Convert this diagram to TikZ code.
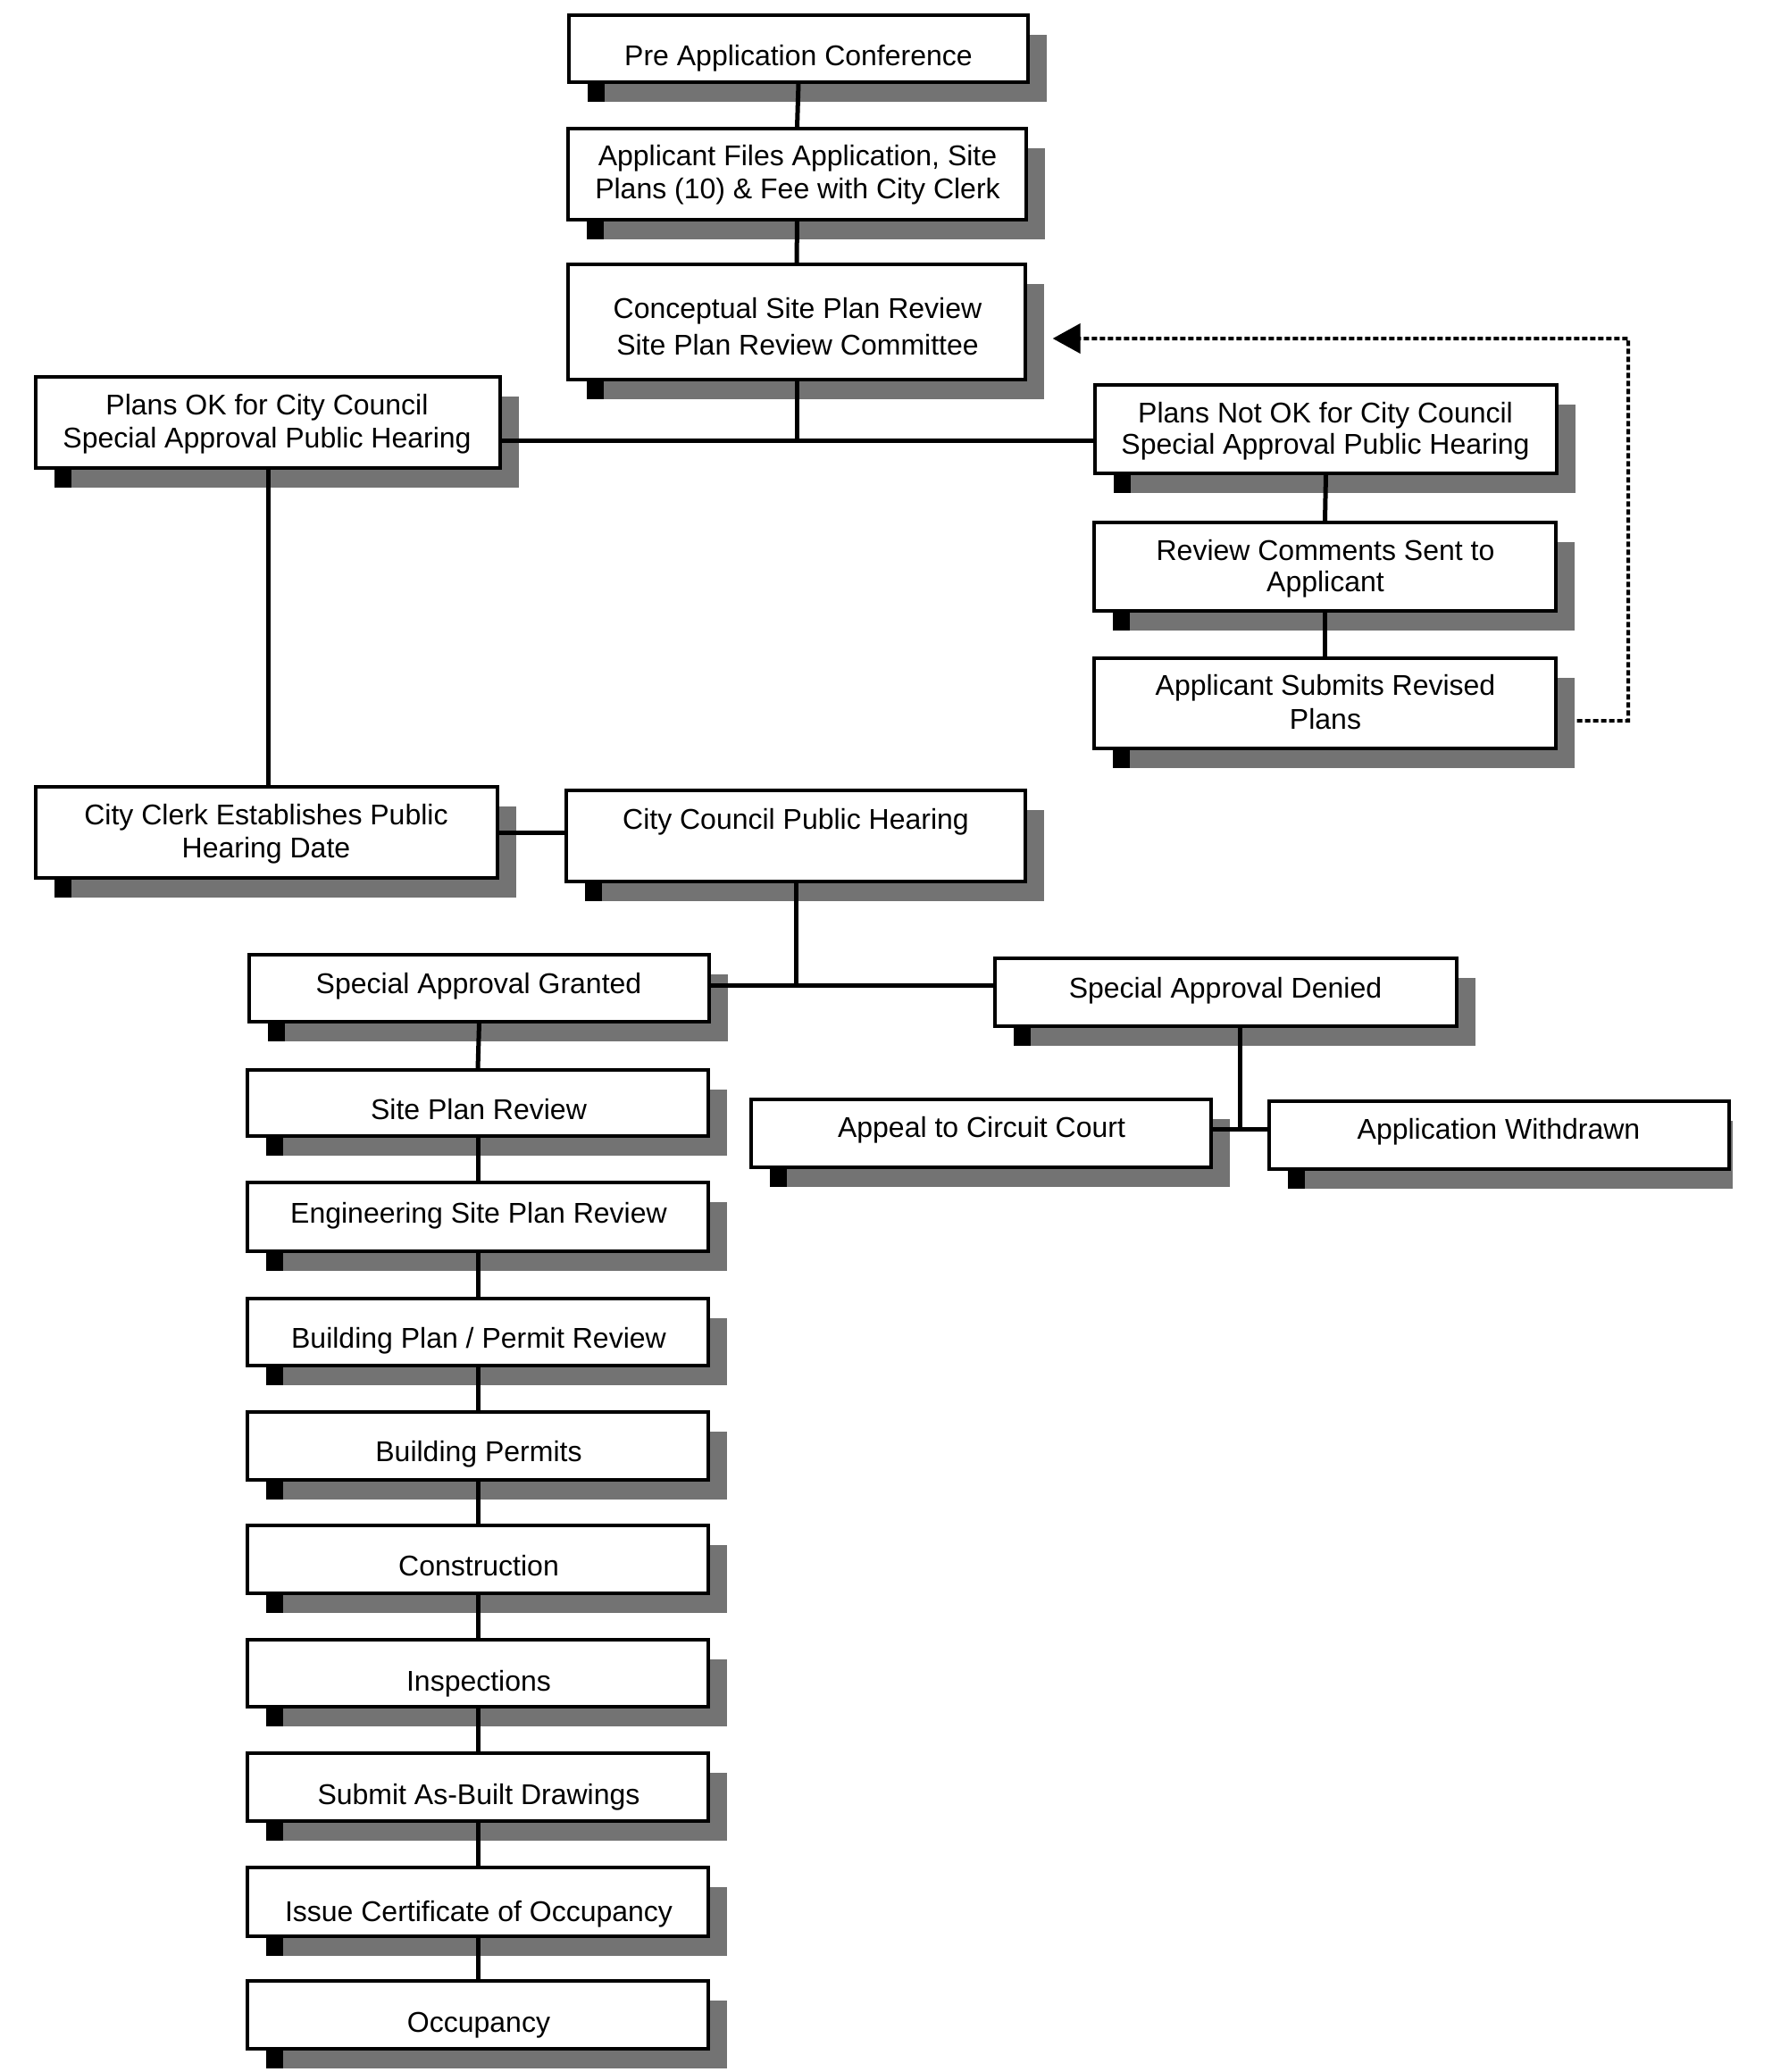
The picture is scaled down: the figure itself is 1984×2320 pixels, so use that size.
\documentclass[tikz,border=0pt]{standalone}
\usepackage{fontspec}
\setmainfont{Liberation Sans}
\usetikzlibrary{arrows.meta,calc}
\tikzset{
  box/.style={draw, line width=1pt, fill=white, inner sep=0pt},
  lbl/.style={font=\fontsize{9.6pt}{11.1pt}\selectfont, align=center, inner sep=0pt},
  conn/.style={line width=1.5pt},
  dotline/.style={line width=1.2pt, dash pattern=on 1.8pt off 0.9pt, -{Triangle[length=9.3pt,width=9.9pt]}},
  shadowc/.style={fill=black!55},
}
% name, left, top, right, bottom, shadow right extension
\newcommand\flowbox[6]{%
  \fill[shadowc] (#2+21,#3+22) rectangle (#4+#6,#5+22);
  \fill[black] (#2+21,#5) rectangle (#2+40,#5+22);
  \node[box, minimum width={(#4-#2)*0.3pt}, minimum height={(#5-#3)*0.3pt}] (#1) at ({(#2+#4)/2},{(#3+#5)/2}) {};
}
\begin{document}
\begin{tikzpicture}[x=0.3pt,y=-0.3pt]
\useasboundingbox (0,0) rectangle (1984,2320);
\fill[white] (0,0) rectangle (1984,2320);

% boxes
\flowbox{preapp}{637}{17}{1151}{92}{21}
\flowbox{files}{636}{144}{1149}{246}{21}
\flowbox{csp}{636}{296}{1148}{425}{21}
\flowbox{pok}{40}{422}{560}{524}{21}
\flowbox{pnok}{1226}{431}{1743}{530}{21}
\flowbox{review}{1225}{585}{1742}{684}{21}
\flowbox{sub}{1225}{737}{1742}{838}{21}
\flowbox{clerk}{40}{881}{557}{983}{21}
\flowbox{council}{634}{885}{1148}{987}{21}
\flowbox{granted}{279}{1069}{794}{1144}{21}
\flowbox{denied}{1114}{1073}{1631}{1149}{21}
\flowbox{appeal}{841}{1231}{1356}{1307}{21}
\flowbox{withdrawn}{1421}{1233}{1936}{1309}{4}
\flowbox{spr}{277}{1198}{793}{1272}{21}
\flowbox{eng}{277}{1324}{793}{1401}{21}
\flowbox{bpr}{277}{1454}{793}{1529}{21}
\flowbox{bp}{277}{1581}{793}{1657}{21}
\flowbox{cons}{277}{1708}{793}{1784}{21}
\flowbox{insp}{277}{1836}{793}{1911}{21}
\flowbox{asb}{277}{1963}{793}{2039}{21}
\flowbox{ico}{277}{2091}{793}{2168}{21}
\flowbox{occ}{277}{2218}{793}{2294}{21}

% texts
\node[lbl, anchor=base] (tpreapp) at (894,73) {Pre Application Conference};
\node[lbl] (tfiles) at (893,196) {Applicant Files Application, Site\\Plans (10) \& Fee with City Clerk};
\node[lbl, font=\fontsize{9.6pt}{12.3pt}\selectfont] (tcsp) at (893,366) {Conceptual Site Plan Review\\Site Plan Review Committee};
\node[lbl] (tpok) at (299,475) {Plans OK for City Council\\Special Approval Public Hearing};
\node[lbl, font=\fontsize{9.6pt}{10.6pt}\selectfont] (tpnok) at (1484,483) {Plans Not OK for City Council\\Special Approval Public Hearing};
\node[lbl, font=\fontsize{9.6pt}{10.6pt}\selectfont] (treview) at (1484,637) {Review Comments Sent to\\Applicant};
\node[lbl, font=\fontsize{9.6pt}{11.4pt}\selectfont] (tsub) at (1484,786) {Applicant Submits Revised\\Plans};
\node[lbl] (tclerk) at (298,934) {City Clerk Establishes Public\\Hearing Date};
\node[lbl, anchor=base] (tcouncil) at (891,928) {City Council Public Hearing};
\node[lbl, anchor=base] (tgranted) at (536,1112) {Special Approval Granted};
\node[lbl, anchor=base] (tdenied) at (1372,1117) {Special Approval Denied};
\node[lbl, anchor=base] (tappeal) at (1099,1273) {Appeal to Circuit Court};
\node[lbl, anchor=base] (twithdrawn) at (1678,1275) {Application Withdrawn};
\node[lbl, anchor=base] (tspr) at (536,1253) {Site Plan Review};
\node[lbl, anchor=base] (teng) at (536,1369) {Engineering Site Plan Review};
\node[lbl, anchor=base] (tbpr) at (536,1509) {Building Plan / Permit Review};
\node[lbl, anchor=base] (tbp) at (536,1636) {Building Permits};
\node[lbl, anchor=base] (tcons) at (536,1764) {Construction};
\node[lbl, anchor=base] (tinsp) at (536,1893) {Inspections};
\node[lbl, anchor=base] (tasb) at (536,2020) {Submit As-Built Drawings};
\node[lbl, anchor=base] (tico) at (536,2151) {Issue Certificate of Occupancy};
\node[lbl, anchor=base] (tocc) at (536,2275) {Occupancy};

% hubs
\coordinate (hubA) at (894,493);
\coordinate (hubB) at (890,1103);
\coordinate (hubC) at (1388,1264);
\coordinate (loopTR) at (1823,379);

% connectors
\draw[conn] (preapp.south) -- (files.north);
\draw[conn] (files.south) -- (csp.north);
\draw[conn] (csp.south) -- (csp.south |- hubA);
\draw[conn] (pok.east |- hubA) -- (pnok.west |- hubA);
\draw[conn] (pnok.south) -- (review.north);
\draw[conn] (review.south) -- (sub.north);
\draw[conn] (pok.south) -- (pok.south |- clerk.north);
\draw[conn] (clerk.east) -- (clerk.east -| council.west);
\draw[conn] (council.south) -- (council.south |- hubB);
\draw[conn] (granted.east |- hubB) -- (denied.west |- hubB);
\draw[conn] (hubC |- denied.south) -- (hubC);
\draw[conn] (appeal.east |- hubC) -- (withdrawn.west |- hubC);
\draw[conn] (granted.south) -- (spr.north);
\draw[conn] (spr.south) -- (eng.north);
\draw[conn] (eng.south) -- (bpr.north);
\draw[conn] (bpr.south) -- (bp.north);
\draw[conn] (bp.south) -- (cons.north);
\draw[conn] (cons.south) -- (insp.north);
\draw[conn] (insp.south) -- (asb.north);
\draw[conn] (asb.south) -- (ico.north);
\draw[conn] (ico.south) -- (occ.north);

% dotted feedback loop
\draw[dotline] ([xshift=6.6pt,yshift=-5.85pt]sub.east) -| (loopTR) -- ([xshift=8.7pt,yshift=-5.55pt]csp.east);
\end{tikzpicture}
\end{document}
